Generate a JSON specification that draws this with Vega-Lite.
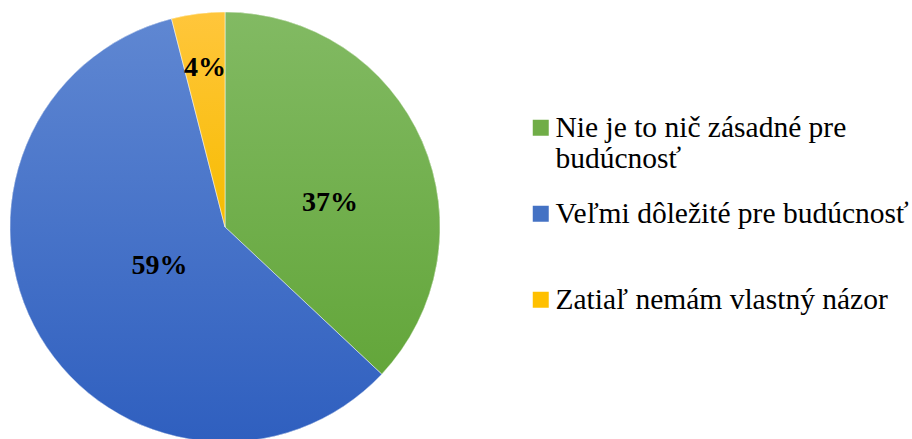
{
  "$schema": "https://vega.github.io/schema/vega-lite/v6.json",
  "width": 450,
  "height": 454,
  "autosize": {"type": "none"},
  "padding": {"left": 0, "top": 0, "right": 462, "bottom": 0},
  "background": "white",
  "view": {"stroke": null},
  "data": {
    "values": [
      {"cat": "Nie je to nič zásadné pre budúcnosť", "v": 37, "o": 1, "lab": "37%"},
      {"cat": "Veľmi dôležité pre budúcnosť", "v": 59, "o": 2, "lab": "59%"},
      {"cat": "Zatiaľ nemám vlastný názor", "v": 4, "o": 3, "lab": "4%"}
    ]
  },
  "encoding": {
    "theta": {"field": "v", "type": "quantitative", "stack": true},
    "order": {"field": "o", "type": "quantitative"}
  },
  "layer": [
    {
      "mark": {"type": "arc", "radius": 215},
      "encoding": {
        "color": {
          "field": "cat",
          "type": "nominal",
          "scale": {
            "domain": ["Nie je to nič zásadné pre budúcnosť", "Veľmi dôležité pre budúcnosť", "Zatiaľ nemám vlastný názor"],
            "range": ["#70AD47", "#4472C4", "#FFC000"]
          },
          "legend": {
            "orient": "none",
            "legendX": 526,
            "legendY": 113,
            "title": null,
            "padding": 0,
            "symbolType": "square",
            "symbolSize": 256,
            "symbolStrokeWidth": 0,
            "labelFont": "Liberation Serif",
            "labelFontSize": 29.5,
            "labelColor": "black",
            "labelLimit": 420,
            "labelLineHeight": 31,
            "labelOffset": 0,
            "rowPadding": 24,
            "labelExpr": "datum.label == 'Nie je to nič zásadné pre budúcnosť' ? ['Nie je to nič zásadné pre', 'budúcnosť'] : [datum.label, ' ']"
          }
        }
      }
    },
    {
      "mark": {"type": "arc", "radius": 215, "stroke": "white", "strokeWidth": 0.5},
      "encoding": {
        "fill": {
          "condition": [
            {"test": "datum.o == 1", "value": {"gradient": "linear", "x1": 0, "y1": 0, "x2": 0, "y2": 1, "stops": [{"offset": 0, "color": "#82BA63"}, {"offset": 1, "color": "#63A63A"}]}},
            {"test": "datum.o == 2", "value": {"gradient": "linear", "x1": 0, "y1": 0, "x2": 0, "y2": 1, "stops": [{"offset": 0, "color": "#5F87D2"}, {"offset": 1, "color": "#2F5FBF"}]}}
          ],
          "value": {"gradient": "linear", "x1": 0, "y1": 0, "x2": 0, "y2": 1, "stops": [{"offset": 0, "color": "#FFC63C"}, {"offset": 1, "color": "#F7BC00"}]}
        }
      }
    },
    {
      "mark": {"type": "text", "radius": 110, "dx": 4, "dy": 20, "font": "Liberation Serif", "fontWeight": "bold", "fontSize": 28, "color": "black"},
      "encoding": {"text": {"condition": {"test": "datum.o == 1", "field": "lab"}, "value": ""}}
    },
    {
      "mark": {"type": "text", "radius": 76, "font": "Liberation Serif", "fontWeight": "bold", "fontSize": 28, "color": "black"},
      "encoding": {"text": {"condition": {"test": "datum.o == 2", "field": "lab"}, "value": ""}}
    },
    {
      "mark": {"type": "text", "radius": 160, "font": "Liberation Serif", "fontWeight": "bold", "fontSize": 28, "color": "black"},
      "encoding": {"text": {"condition": {"test": "datum.o == 3", "field": "lab"}, "value": ""}}
    }
  ]
}
